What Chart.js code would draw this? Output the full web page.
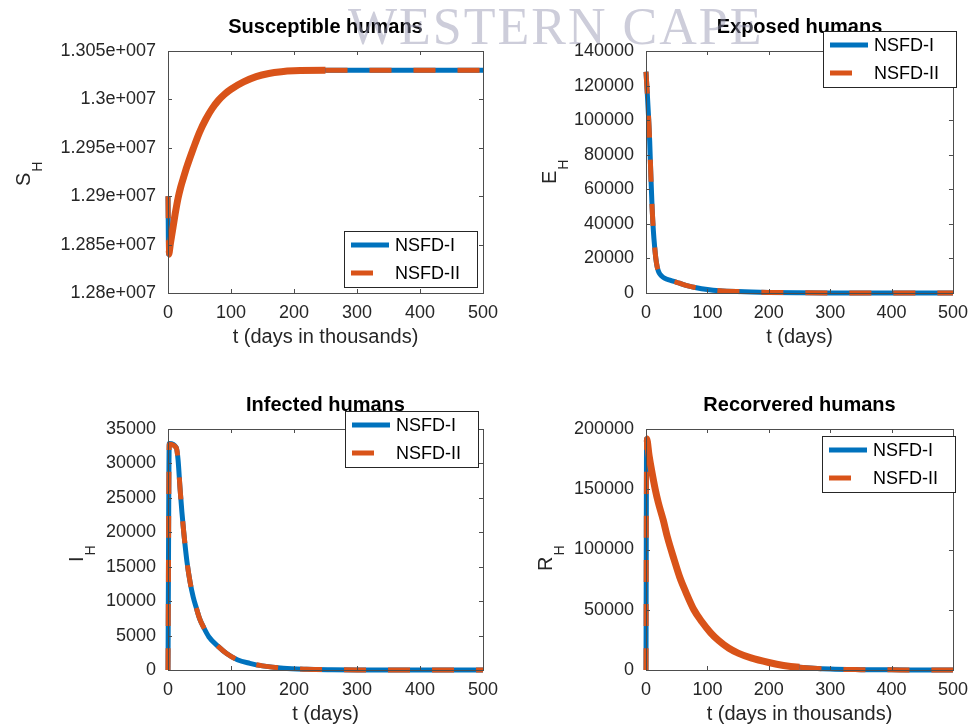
<!DOCTYPE html>
<html>
<head>
<meta charset="utf-8">
<script src="https://cdn.jsdelivr.net/npm/chart.js@4.4.1/dist/chart.umd.min.js"></script>
<style>
  html, body { margin: 0; padding: 0; background: #ffffff; }
  #fig { position: relative; width: 977px; height: 726px; overflow: hidden; background: #ffffff; }
  #fig canvas { position: absolute; left: 0; top: 0; }
  #wm {
    position: absolute; left: 348px; top: 1px; white-space: nowrap;
    font-family: 'Liberation Serif', 'DejaVu Serif', serif; font-size: 52px; line-height: 52px;
    letter-spacing: 2px; color: rgba(150, 150, 178, 0.48); pointer-events: none;
  }
</style>
</head>
<body>
<div id="fig">
  <canvas id="c1" width="977" height="726"></canvas>
  <canvas id="c2" width="977" height="726"></canvas>
  <canvas id="c3" width="977" height="726"></canvas>
  <canvas id="c4" width="977" height="726"></canvas>
  <div id="wm">WESTERN CAPE</div>
</div>
<script>
// ---- series names ----
const seriesNames = ['NSFD-I', 'NSFD-II'];

// ---- Susceptible humans ----
const tS      = [0, 1, 4, 8, 12, 16, 20, 25, 30, 35, 40, 50, 60, 70, 80, 90, 100, 120, 140, 160, 180, 200, 250, 300, 350, 400, 450, 500];
const sNSFD1  = [12900000, 12840000, 12852000, 12868000, 12884000, 12898000, 12909000, 12920000, 12930500, 12940000, 12949000, 12966000, 12979500, 12990500, 12999000, 13005500, 13010500, 13018000, 13023500, 13026800, 13028600, 13029500, 13030000, 13030000, 13030000, 13030000, 13030000, 13030000];
const sNSFD2  = [12900000, 12840000, 12852000, 12868000, 12884000, 12898000, 12909000, 12920000, 12930500, 12940000, 12949000, 12966000, 12979500, 12990500, 12999000, 13005500, 13010500, 13018000, 13023500, 13026800, 13028600, 13029500, 13030000, 13030000, 13030000, 13030000, 13030000, 13030000];
const sTicks  = ['1.28e+007', '1.285e+007', '1.29e+007', '1.295e+007', '1.3e+007', '1.305e+007'];

// ---- Exposed humans ----
const tE      = [0, 2, 4, 6, 8, 10, 12, 14, 16, 18, 20, 22, 25, 30, 40, 50, 60, 70, 80, 100, 120, 150, 200, 250, 300, 400, 500];
const eNSFD1  = [128000, 116000, 103000, 88000, 67000, 49000, 36000, 27000, 20000, 15500, 12800, 11300, 10000, 8600, 7300, 6200, 5000, 4000, 3200, 2000, 1300, 800, 350, 150, 60, 10, 0];
const eNSFD2  = [128000, 116000, 103000, 88000, 67000, 49000, 36000, 27000, 20000, 15500, 12800, 11300, 10000, 8600, 7300, 6200, 5000, 4000, 3200, 2000, 1300, 800, 350, 150, 60, 10, 0];
const eTicks  = ['0', '20000', '40000', '60000', '80000', '100000', '120000', '140000'];

// ---- Infected humans ----
const tI      = [0, 2, 13, 16, 19, 22, 25, 30, 35, 40, 45, 50, 56, 65, 80, 93, 110, 130, 150, 183, 220, 260, 300, 400, 500];
const iNSFD1  = [0, 32900, 32300, 30500, 26500, 23000, 20000, 15800, 12800, 10600, 9000, 7500, 6300, 4800, 3400, 2400, 1500, 970, 600, 250, 100, 40, 15, 0, 0];
const iNSFD2  = [0, 32800, 32300, 30500, 26500, 23000, 20000, 15800, 12800, 10600, 9000, 7500, 6300, 4800, 3400, 2400, 1500, 970, 600, 250, 100, 40, 15, 0, 0];
const iTicks  = ['0', '5000', '10000', '15000', '20000', '25000', '30000', '35000'];

// ---- Recovered humans ----
const tR      = [0, 1, 5, 9, 15, 20, 28, 35, 46, 55, 65, 78, 91, 105, 118, 135, 150, 171, 200, 224, 250, 300, 350, 400, 450, 500];
const rNSFD1  = [0, 192000, 178000, 166000, 150000, 139000, 124500, 110000, 91300, 77000, 64500, 50000, 40000, 31000, 24500, 18000, 14000, 10000, 6200, 3800, 2300, 800, 300, 120, 50, 20];
const rNSFD2  = [0, 192000, 178000, 166000, 150000, 139000, 124500, 110000, 91300, 77000, 64500, 50000, 40000, 31000, 24500, 18000, 14000, 10000, 6200, 3800, 2300, 800, 300, 120, 50, 20];
const rTicks  = ['0', '50000', '100000', '150000', '200000'];

// ---- styling ----
const FONT = "'Liberation Sans', Arial, Helvetica, sans-serif";
const BLUE = '#0072BD', ORANGE = '#D95319';
const AXIS = '#4d4d4d', TEXT = '#262626';
const DASH = [22, 22];
const Y_AXIS_W = 110, X_AXIS_H = 56;

const pair = (t, v) => t.map((x, k) => ({ x, y: v[k] }));

// Frame, inward ticks, title, subscripted y label and legend box
const panelDecor = {
  id: 'panelDecor',
  afterDraw(chart, args, o) {
    const { ctx, chartArea: a, scales } = chart;
    ctx.save();
    // inward tick marks on all four sides
    ctx.strokeStyle = AXIS; ctx.lineWidth = 1;
    const TL = 4;
    ctx.beginPath();
    scales.x.ticks.forEach(tk => {
      const px = Math.round(scales.x.getPixelForValue(tk.value)) + 0.5;
      ctx.moveTo(px, a.bottom); ctx.lineTo(px, a.bottom - TL);
      ctx.moveTo(px, a.top); ctx.lineTo(px, a.top + TL);
    });
    scales.y.ticks.forEach(tk => {
      const py = Math.round(scales.y.getPixelForValue(tk.value)) + 0.5;
      ctx.moveTo(a.left, py); ctx.lineTo(a.left + TL, py);
      ctx.moveTo(a.right, py); ctx.lineTo(a.right - TL, py);
    });
    ctx.stroke();
    // axes box
    ctx.strokeRect(Math.round(a.left) + 0.5, Math.round(a.top) + 0.5,
                   Math.round(a.right - a.left), Math.round(a.bottom - a.top));

    // title
    ctx.fillStyle = '#000';
    ctx.font = 'bold 20px ' + FONT;
    ctx.textAlign = 'center'; ctx.textBaseline = 'alphabetic';
    ctx.fillText(o.title, (a.left + a.right) / 2, a.top - 18);

    // y label with subscript, rotated
    ctx.save();
    ctx.translate(o.ylab.bx, o.ylab.sy);
    ctx.rotate(-Math.PI / 2);
    ctx.fillStyle = TEXT;
    ctx.textAlign = 'left';
    ctx.font = '20px ' + FONT;
    ctx.fillText(o.ylab.main, 0, 0);
    const w = ctx.measureText(o.ylab.main).width;
    ctx.font = '14px ' + FONT;
    ctx.fillText(o.ylab.sub, w + 1, 12);
    ctx.restore();

    // legend
    const L = o.legend, bw = 133, bh = 56;
    ctx.fillStyle = '#fff';
    ctx.fillRect(L.x, L.y, bw, bh);
    ctx.strokeStyle = '#262626'; ctx.lineWidth = 1;
    ctx.strokeRect(L.x + 0.5, L.y + 0.5, bw, bh);
    chart.data.datasets.forEach((ds, k) => {
      const ry = L.y + 14 + k * 28;
      ctx.beginPath();
      ctx.lineWidth = 5; ctx.lineCap = 'butt';
      ctx.strokeStyle = ds.borderColor;
      ctx.setLineDash(ds.borderDash || []);
      ctx.moveTo(L.x + 7, ry); ctx.lineTo(L.x + 45, ry);
      ctx.stroke();
      ctx.setLineDash([]);
      ctx.fillStyle = '#000';
      ctx.font = '18px ' + FONT;
      ctx.textAlign = 'left'; ctx.textBaseline = 'middle';
      ctx.fillText(ds.label, L.x + 51, ry + 1);
    });
    ctx.restore();
  }
};

function buildPanel(p) {
  const band = c => p.dense && c.p0.parsed.x >= 1 && c.p1.parsed.x <= 250;
  const datasets = [
    // solid NSFD-I underneath
    { label: seriesNames[0], data: pair(p.t, p.v1), borderColor: BLUE, borderWidth: 5, order: 2, clip: 3,
      pointRadius: 0, cubicInterpolationMode: 'monotone', fill: false },
    // dashed NSFD-II on top
    { label: seriesNames[1], data: pair(p.t, p.v2), borderColor: ORANGE, borderWidth: 5, order: 1, clip: 3,
      borderDash: DASH, pointRadius: 0, cubicInterpolationMode: 'monotone', fill: false,
      segment: {
        borderDash: c => band(c) ? [] : DASH,
        borderWidth: c => band(c) ? 7 : 5
      } }
  ];
  const a = p.area;
  return new Chart(document.getElementById(p.id), {
    type: 'line',
    data: { datasets },
    plugins: [panelDecor],
    options: {
      responsive: false, animation: false, devicePixelRatio: 1,
      layout: { padding: { left: a.l - Y_AXIS_W, top: a.t, right: 977 - a.r, bottom: 726 - a.b - X_AXIS_H } },
      plugins: {
        legend: { display: false }, tooltip: { enabled: false }, title: { display: false },
        panelDecor: { title: p.title, ylab: p.ylab, legend: p.legend }
      },
      scales: {
        x: {
          type: 'linear', min: 0, max: 500,
          afterFit: s => { s.height = X_AXIS_H; },
          grid: { display: false, drawTicks: false },
          border: { display: false },
          ticks: { stepSize: 100, padding: 9, color: TEXT, font: { family: FONT, size: 18 }, maxRotation: 0 },
          title: { display: true, text: p.xTitle, color: TEXT, font: { family: FONT, size: 20 }, padding: { top: 0, bottom: 0 } }
        },
        y: {
          type: 'linear', min: p.ymin, max: p.ymax,
          afterFit: s => { s.width = Y_AXIS_W; },
          grid: { display: false, drawTicks: false },
          border: { display: false },
          ticks: { stepSize: p.ystep, padding: 12, color: TEXT, font: { family: FONT, size: 18 },
                   callback: (v, k) => p.yLabels[k] }
        }
      }
    }
  });
}

buildPanel({ id: 'c1', area: { l: 168, t: 51, r: 483, b: 293 }, title: 'Susceptible humans',
  xTitle: 't (days in thousands)', ylab: { main: 'S', sub: 'H', bx: 30, sy: 186 },
  legend: { x: 344, y: 231 }, t: tS, v1: sNSFD1, v2: sNSFD2, dense: true,
  ymin: 12800000, ymax: 13050000, ystep: 50000, yLabels: sTicks });

buildPanel({ id: 'c2', area: { l: 646, t: 51, r: 960, b: 293 }, title: 'Exposed humans',
  xTitle: 't (days)', ylab: { main: 'E', sub: 'H', bx: 556, sy: 184 },
  legend: { x: 823, y: 31 }, t: tE, v1: eNSFD1, v2: eNSFD2, dense: false,
  ymin: 0, ymax: 140000, ystep: 20000, yLabels: eTicks });

buildPanel({ id: 'c3', area: { l: 168, t: 429, r: 483, b: 670 }, title: 'Infected humans',
  xTitle: 't (days)', ylab: { main: 'I', sub: 'H', bx: 83, sy: 562 },
  legend: { x: 345, y: 411 }, t: tI, v1: iNSFD1, v2: iNSFD2, dense: false,
  ymin: 0, ymax: 35000, ystep: 5000, yLabels: iTicks });

buildPanel({ id: 'c4', area: { l: 646, t: 429, r: 960, b: 670 }, title: 'Recorvered humans',
  xTitle: 't (days in thousands)', ylab: { main: 'R', sub: 'H', bx: 552, sy: 571 },
  legend: { x: 822, y: 436 }, t: tR, v1: rNSFD1, v2: rNSFD2, dense: true,
  ymin: 0, ymax: 200000, ystep: 50000, yLabels: rTicks });
</script>
</body>
</html>
